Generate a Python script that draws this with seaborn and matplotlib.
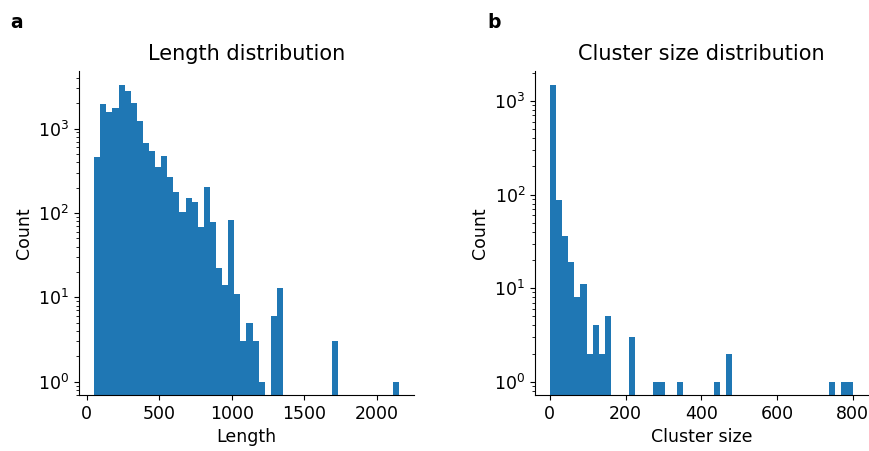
import matplotlib
matplotlib.use("Agg")
import matplotlib.pyplot as plt
import seaborn as sns
import numpy as np
import pandas as pd

# ---- data: histogram bin counts ----
length_range = (52, 2152)
length_bins = 50
length_counts = [460, 1980, 1575, 1775, 3266, 2800, 2010, 1230, 670, 550,
                 350, 480, 267, 177, 102, 150, 135, 69, 203, 78,
                 22, 14, 83, 11, 3, 5, 3, 1, 0, 6,
                 13, 0, 0, 0, 0, 0, 0, 0, 0, 3,
                 0, 0, 0, 0, 0, 0, 0, 0, 0, 1]

cluster_range = (1, 801)
cluster_bins = 50
cluster_counts = [1484, 88, 36, 19, 8, 11, 2, 4, 2, 5,
                  0, 0, 0, 3, 0, 0, 0, 1, 1, 0,
                  0, 1, 0, 0, 0, 0, 0, 1, 0, 2,
                  0, 0, 0, 0, 0, 0, 0, 0, 0, 0,
                  0, 0, 0, 0, 0, 0, 1, 0, 1, 1]

titles = ["Length distribution", "Cluster size distribution"]
xlabels = ["Length", "Cluster size"]
panel_labels = ["a", "b"]


def to_frame(rng, nbins, counts):
    edges = np.linspace(rng[0], rng[1], nbins + 1)
    centers = (edges[:-1] + edges[1:]) / 2
    df = pd.DataFrame({"value": centers, "count": counts})
    return df[df["count"] > 0]


plt.rcParams["font.family"] = ["DejaVu Sans"]
fig = plt.figure(figsize=(8.7, 4.51), dpi=100)
ax1 = fig.add_axes([0.0908, 0.124, 0.385, 0.719])
ax2 = fig.add_axes([0.615, 0.124, 0.383, 0.719])

specs = [
    (ax1, length_range, length_bins, length_counts, (10 ** -0.158, 10 ** 3.685)),
    (ax2, cluster_range, cluster_bins, cluster_counts, (10 ** -0.142, 10 ** 3.322)),
]

for i, (ax, rng, nb, cnts, ylim) in enumerate(specs):
    df = to_frame(rng, nb, cnts)
    sns.histplot(data=df, x="value", weights="count", bins=nb, binrange=rng,
                 color="#1f77b4", alpha=1, linewidth=0, ax=ax)
    ax.set_yscale("log")
    ax.set_ylim(*ylim)
    span = rng[1] - rng[0]
    ax.set_xlim(rng[0] - 0.05 * span, rng[1] + 0.05 * span)
    ax.set_title(titles[i], fontsize=15, pad=8)
    ax.set_xlabel(xlabels[i], fontsize=12.5)
    ax.set_ylabel("Count", fontsize=12.5)
    ax.tick_params(labelsize=12.5)
    sns.despine(ax=ax)

ax1.set_xticks([0, 500, 1000, 1500, 2000])
ax2.set_xticks([0, 200, 400, 600, 800])

fig.text(10 / 870, 1 - 22 / 451, panel_labels[0], fontsize=13.5, fontweight="bold",
         ha="left", va="center")
fig.text(487 / 870, 1 - 22 / 451, panel_labels[1], fontsize=13.5, fontweight="bold",
         ha="left", va="center")

fig.savefig("out.png", dpi=100)
